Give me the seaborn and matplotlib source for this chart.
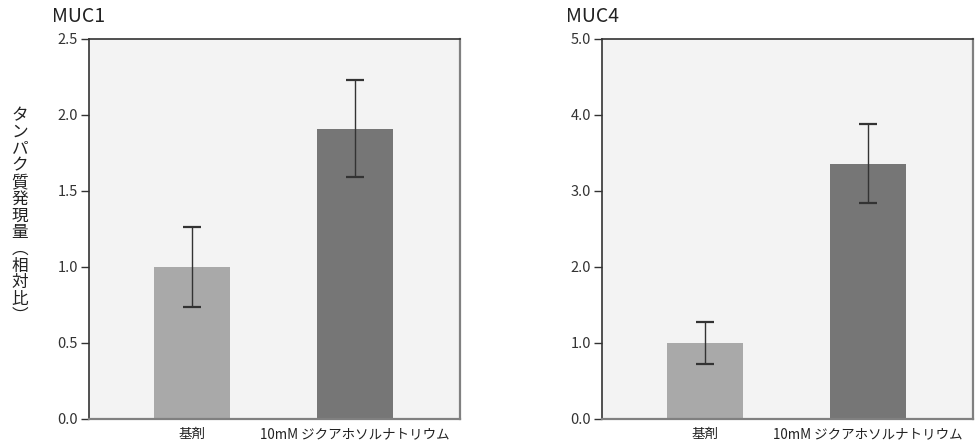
import pandas as pd
import matplotlib
matplotlib.use("Agg")
import matplotlib.pyplot as plt
import seaborn as sns

# values
groups = ["基剤", "10mM ジクアホソルナトリウム"]
muc1_mean = [1.00, 1.91]
muc1_err = [0.26, 0.32]
muc4_mean = [1.00, 3.36]
muc4_err = [0.27, 0.52]
bar_colors = ["#a9a9a9", "#767676"]
ylabel = "タンパク質発現量︵相対比︶"

sns.set_style("white")
plt.rcParams["font.family"] = ["Noto Sans CJK JP", "DejaVu Sans"]

fig = plt.figure(figsize=(9.76, 4.46), dpi=100)
ax1 = fig.add_axes([89 / 976, 27 / 446, 371 / 976, 380 / 446])
ax2 = fig.add_axes([602 / 976, 27 / 446, 371 / 976, 380 / 446])


def draw(ax, mean, err, ymax, step, title, tx):
    df = pd.DataFrame({"group": groups, "value": mean})
    sns.barplot(data=df, x="group", y="value", hue="group", palette=bar_colors,
                width=0.466, errorbar=None, legend=False, ax=ax, saturation=1,
                linewidth=0)
    ax.errorbar(range(len(groups)), mean, yerr=err, fmt="none", ecolor="#333333",
                elinewidth=1.0, capsize=6.8, capthick=1.6)
    ax.set_facecolor("#f3f3f3")
    ax.set_xlim(-0.632, 1.644)
    ax.set_ylim(0, ymax)
    ticks = [i * step for i in range(int(round(ymax / step)) + 1)]
    ax.set_yticks(ticks)
    ax.set_yticklabels(["{:.1f}".format(t) for t in ticks], fontsize=10.5,
                       color="#333333")
    ax.set_xticks(range(len(groups)))
    ax.set_xticklabels(groups, fontsize=9.7, color="#222222")
    ax.tick_params(axis="y", direction="out", length=6, width=1, color="#333333", pad=2, left=True)
    ax.tick_params(axis="x", length=0, pad=6)
    ax.set_xlabel("")
    ax.set_ylabel("")
    for side in ["left", "top"]:
        ax.spines[side].set_color("#333333")
        ax.spines[side].set_linewidth(1.2)
    for side in ["right", "bottom"]:
        ax.spines[side].set_color("#808080")
        ax.spines[side].set_linewidth(1.6)
    fig.text(tx / 976, 1 - 22 / 446, title, fontsize=14, color="#222222",
             ha="left", va="baseline")


draw(ax1, muc1_mean, muc1_err, 2.5, 0.5, "MUC1", 52)
draw(ax2, muc4_mean, muc4_err, 5.0, 1.0, "MUC4", 566)

fig.text(20 / 976, 1 - 216 / 446, "\n".join(ylabel), fontsize=12, color="#222222",
         ha="center", va="center", linespacing=0.98)

fig.savefig("out.png", dpi=100)
